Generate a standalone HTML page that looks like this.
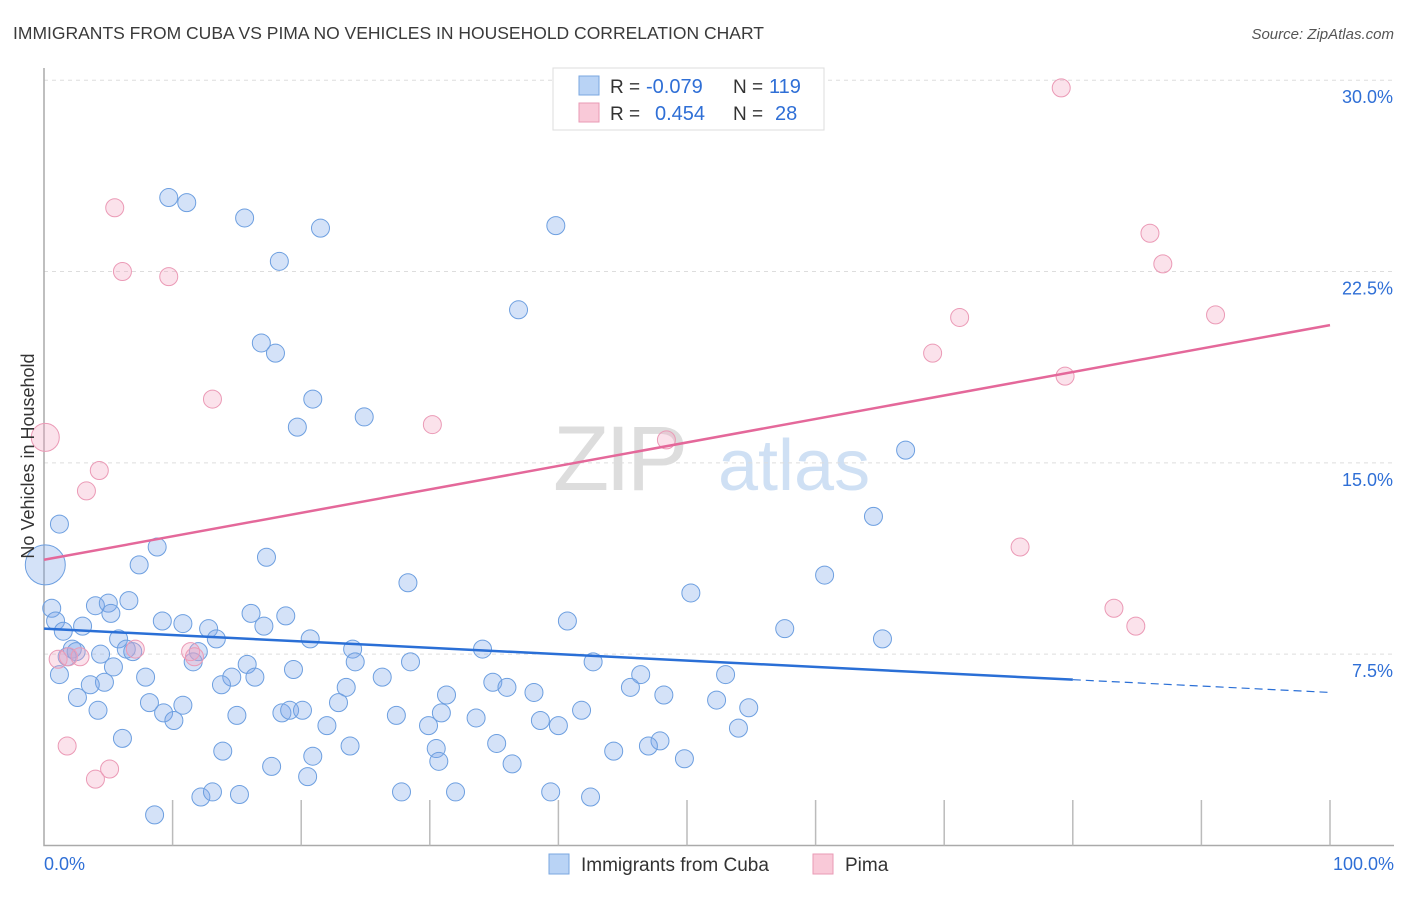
<!DOCTYPE html>
<html><head><meta charset="utf-8"><style>
body{margin:0;background:#fff;font-family:"Liberation Sans",sans-serif;}
svg text{font-family:"Liberation Sans",sans-serif;}
</style></head><body>
<svg id="chart" width="1406" height="892" xmlns="http://www.w3.org/2000/svg">
<text x="13" y="39" font-size="17.5" fill="#3a3a3a">IMMIGRANTS FROM CUBA VS PIMA NO VEHICLES IN HOUSEHOLD CORRELATION CHART</text>
<text x="1394" y="39" font-size="15" fill="#555" font-style="italic" text-anchor="end">Source: ZipAtlas.com</text>
<g>
<text x="553" y="490" font-size="92" fill="#ddd" font-family="Liberation Serif" letter-spacing="-4">ZIP</text>
<text x="718" y="490" font-size="72" fill="#cfe0f4">atlas</text>
</g>
<g id="grid"></g>
<g id="axes"></g>
<g id="blue"></g>
<g id="pink"></g>
<g id="trends"></g>
<text transform="translate(34,456) rotate(-90)" font-size="18" fill="#333" text-anchor="middle">No Vehicles in Household</text>
<g>
<rect x="553" y="68" width="271" height="62" fill="#fff" stroke="#ddd"/>
<rect x="579" y="76" width="20" height="19" fill="#b9d3f5" stroke="#7aa7e0"/>
<rect x="579" y="103" width="20" height="19" fill="#f9c9d8" stroke="#e99ab5"/>
<text x="610" y="93" font-size="19" fill="#333">R =</text>
<text x="646" y="93" font-size="20" fill="#2f6fd6">-0.079</text>
<text x="733" y="93" font-size="19" fill="#333">N =</text>
<text x="769" y="93" font-size="20" fill="#2f6fd6">119</text>
<text x="610" y="120" font-size="19" fill="#333">R =</text>
<text x="655" y="120" font-size="20" fill="#2f6fd6">0.454</text>
<text x="733" y="120" font-size="19" fill="#333">N =</text>
<text x="775" y="120" font-size="20" fill="#2f6fd6">28</text>
</g>
<g>
<rect x="549" y="854" width="20" height="20" fill="#b9d3f5" stroke="#7aa7e0"/>
<text x="581" y="871" font-size="19" fill="#333">Immigrants from Cuba</text>
<rect x="813" y="854" width="20" height="20" fill="#f9c9d8" stroke="#e99ab5"/>
<text x="845" y="871" font-size="19" fill="#333">Pima</text>
</g>
</svg>
<script>
const yTicks=[7.5,15,22.5,30];
const yTickLabels=["7.5%","15.0%","22.5%","30.0%"];
const xTickLabels=["0.0%","100.0%"];
const cubaX=[9.7,11.1,15.6,21.5,39.8,18.3,36.9,16.9,18.0,20.9,24.9,19.7,67.0,1.2,64.5,8.8,17.3,7.4,60.7,28.3,50.3,0.6,6.6,4.0,5.0,5.2,16.1,18.8,40.7,0.9,9.2,10.8,12.8,17.1,3.0,57.6,1.5,5.8,13.4,20.7,24.0,65.2,6.4,6.9,34.1,2.2,4.4,1.8,2.5,12.0,11.6,24.2,42.7,28.5,5.4,15.8,1.2,19.4,46.4,53.0,7.9,14.6,16.4,26.3,4.7,3.6,13.8,23.5,34.9,36.0,38.1,45.6,48.2,31.3,2.6,8.2,10.8,22.9,52.3,4.2,9.3,15.0,18.5,19.1,20.1,27.4,30.9,41.8,54.8,10.1,33.6,38.6,22.0,29.9,40.0,54.0,6.1,23.8,35.2,13.9,30.5,44.3,47.9,47.0,20.9,30.7,36.4,49.8,17.7,20.5,27.8,32.0,39.4,42.5,12.2,13.1,15.2,8.6,0.1];
const cubaY=[25.4,25.2,24.6,24.2,24.3,22.9,21.0,19.7,19.3,17.5,16.8,16.4,15.5,12.6,12.9,11.7,11.3,11.0,10.6,10.3,9.9,9.3,9.6,9.4,9.5,9.1,9.1,9.0,8.8,8.8,8.8,8.7,8.5,8.6,8.6,8.5,8.4,8.1,8.1,8.1,7.7,8.1,7.7,7.6,7.7,7.7,7.5,7.4,7.6,7.6,7.2,7.2,7.2,7.2,7.0,7.1,6.7,6.9,6.7,6.7,6.6,6.6,6.6,6.6,6.4,6.3,6.3,6.2,6.4,6.2,6.0,6.2,5.9,5.9,5.8,5.6,5.5,5.6,5.7,5.3,5.2,5.1,5.2,5.3,5.3,5.1,5.2,5.3,5.4,4.9,5.0,4.9,4.7,4.7,4.7,4.6,4.2,3.9,4.0,3.7,3.8,3.7,4.1,3.9,3.5,3.3,3.2,3.4,3.1,2.7,2.1,2.1,2.1,1.9,1.9,2.1,2.0,1.2,11.0];
const pimaX=[79.1,5.5,86.0,87.0,6.1,9.7,71.2,91.1,69.1,79.4,13.1,30.2,48.4,0.1,4.3,3.3,75.9,83.2,84.9,1.1,1.9,2.8,7.1,11.4,11.7,1.8,4.0,5.1];
const pimaY=[29.7,25.0,24.0,22.8,22.5,22.3,20.7,20.8,19.3,18.4,17.5,16.5,15.9,16.0,14.7,13.9,11.7,9.3,8.6,7.3,7.4,7.4,7.7,7.6,7.4,3.9,2.6,3.0];
const cubaTrendX=[0,80,100];
const cubaTrendY=[8.5,6.5,6.0];
const pimaTrendX=[0,100];
const pimaTrendY=[11.2,20.4];

const NS="http://www.w3.org/2000/svg";
const X0=44,X1=1330,YB=845.5,YPX=25.51;
function sx(v){return X0+(X1-X0)*v/100;}
function sy(v){return YB-v*YPX;}
function mk(tag,attrs,parent){const e=document.createElementNS(NS,tag);for(const k in attrs)e.setAttribute(k,attrs[k]);parent.appendChild(e);return e;}
const grid=document.getElementById('grid'),axes=document.getElementById('axes');
yTicks.forEach((t,i)=>{
  const l=mk('line',{x1:X0,x2:1394,y1:sy(t),y2:sy(t),stroke:'#ddd','stroke-dasharray':'4,4'},grid);
  
  
  const tx=mk('text',{x:1393,y:sy(t)+23,'font-size':18,fill:'#2f6fd6','text-anchor':'end'},axes);
  tx.textContent=yTickLabels[i];
  
  
});
const ax=mk('path',{d:`M${X0} 68 V${YB} H1394`,stroke:'#aaa',fill:'none','stroke-width':1.5},axes);


for(let i=1;i<=10;i++){
  const t=mk('line',{x1:sx(i*10),x2:sx(i*10),y1:800,y2:YB,stroke:'#bbb','stroke-width':1.5},axes);
  
  
}
[[44,'start',0],[1394,'end',1]].forEach(([x,a,i])=>{
  const t=mk('text',{x:x,y:870,'font-size':18,fill:'#2f6fd6','text-anchor':a},axes);
  t.textContent=xTickLabels[i];
  
  
});
const blue=document.getElementById('blue'),pink=document.getElementById('pink');
cubaX.forEach((x,i)=>{
  const r=i===cubaX.length-1?20:9;
  const c=mk('circle',{cx:sx(x),cy:sy(cubaY[i]),r:r,fill:'rgba(120,165,232,0.32)',stroke:'#6d9fe0','stroke-width':1},blue);
  
  
});
pimaX.forEach((x,i)=>{
  const r=i===13?14:9;
  const c=mk('circle',{cx:sx(x),cy:sy(pimaY[i]),r:r,fill:'rgba(244,165,192,0.32)',stroke:'#eb9ab6','stroke-width':1},pink);
  
  
});
const tr=document.getElementById('trends');
const b1=mk('line',{x1:sx(cubaTrendX[0]),y1:sy(cubaTrendY[0]),x2:sx(cubaTrendX[1]),y2:sy(cubaTrendY[1]),stroke:'#2a6fd6','stroke-width':2.5},tr);


const b2=mk('line',{x1:sx(cubaTrendX[1]),y1:sy(cubaTrendY[1]),x2:sx(cubaTrendX[2]),y2:sy(cubaTrendY[2]),stroke:'#2a6fd6','stroke-width':1.2,'stroke-dasharray':'8,5'},tr);


const p1=mk('line',{x1:sx(pimaTrendX[0]),y1:sy(pimaTrendY[0]),x2:sx(pimaTrendX[1]),y2:sy(pimaTrendY[1]),stroke:'#e4689a','stroke-width':2.5},tr);


</script>
</body></html>
